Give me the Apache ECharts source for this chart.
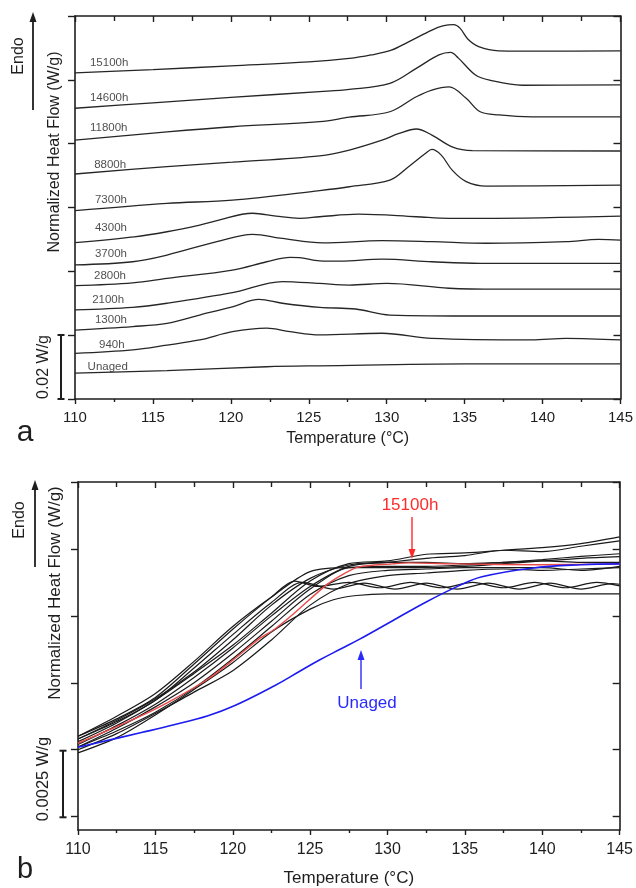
<!DOCTYPE html>
<html><head><meta charset="utf-8">
<script src="https://cdn.jsdelivr.net/npm/echarts@6.0.0/dist/echarts.min.js"></script>
<style>html,body{margin:0;padding:0;background:#fff}#c{width:636px;height:888px}</style>
</head><body><div id="c"></div>
<script>
// ---------- Panel a data (Temperature °C, normalized heat flow in mW/g, curves offset) ----------
const aLabels = ['15100h','14600h','11800h','8800h','7300h','4300h','3700h','2800h','2100h','1300h','940h','Unaged'];
const a15100 = [[110,102.2],[115,103.2],[120,104.4],[125,105.6],[127.6,106.7],[129,107.8],[130.3,109.3],[131.4,111.9],[132.9,115.6],[133.6,116.9],[134.3,117.3],[134.7,116.2],[135.2,112.8],[135.9,110.4],[137.2,109.1],[140,109.0],[145,109.1]];
const a14600 = [[110,91.1],[115,92.8],[120,94.5],[125.7,96.3],[127.6,97.0],[130.2,98.9],[131.9,103.6],[133.35,107.8],[134.1,108.6],[134.6,106.8],[135.7,101.5],[136.6,99.9],[138.7,98.3],[145,98.4]];
const a11800 = [[110,81.1],[115.9,83.7],[120.1,85.3],[125.7,86.9],[127.6,88.3],[130.2,90.0],[131.9,94.7],[132.9,96.8],[134.0,97.8],[135.1,94.2],[136.0,90.0],[137.2,89.0],[139.3,88.4],[145,88.4]];
const a8800 = [[110,70.5],[115.9,72.8],[120.1,74.2],[125.7,76.2],[127.6,78.0],[129.7,81.1],[130.8,83.2],[131.9,84.6],[132.9,82.7],[134.2,79.0],[135.5,77.8],[145,77.7]];
const a7300 = [[110,59.0],[115.9,61.3],[120.1,62.3],[125.7,65.3],[127.6,66.5],[130.2,68.6],[131.4,72.8],[132.5,77.0],[132.9,78.2],[133.5,76.4],[134.2,71.7],[135.1,68.1],[136.4,66.7],[145,67.0]];
const a4300 = [[110,49.0],[113.8,50.8],[115.9,52.4],[118.0,54.5],[119.1,55.9],[121.4,58.2],[122.9,57.3],[124.4,56.6],[125.7,57.1],[128.2,57.9],[131.9,57.1],[134.0,56.6],[136.1,56.6],[145,57.3]];
const a3700 = [[110,42.0],[113.7,43.0],[115.9,45.1],[119.1,49.3],[121.4,51.6],[123.3,50.3],[125.9,48.9],[129.7,49.6],[132.9,49.3],[136.4,48.8],[141.5,49.3],[143.6,50.0],[145,49.8]];
const a2800 = [[110,35.5],[113.7,36.4],[115.9,37.8],[120.1,40.4],[122.3,43.0],[123.8,44.4],[124.4,44.3],[125.7,43.3],[127.0,43.2],[129.7,43.8],[132.9,43.0],[136.0,42.5],[139.3,42.5],[145,42.5]];
const a2100 = [[110,27.9],[113.7,28.7],[115.9,30.0],[120.1,33.3],[123.3,36.8],[125.7,36.2],[127.6,35.7],[130.0,36.2],[134.0,34.7],[137.2,34.4],[145,34.4]];
const a1300 = [[110,21.6],[113.7,22.7],[115.9,23.7],[118.0,26.3],[120.1,28.9],[121.8,31.2],[123.3,30.0],[125.7,28.7],[128.0,28.2],[130.2,26.3],[136.1,26.0],[145,26.0]];
const a940 = [[110,14.3],[113.7,15.4],[115.9,16.9],[118.0,18.5],[120.1,21.1],[122.3,22.2],[123.8,21.1],[125.7,20.1],[129.7,20.6],[132.9,19.0],[139.3,18.5],[141.5,19.0],[145,18.5]];
const aUnaged = [[110,8.1],[115.9,8.9],[122.3,10.1],[125.7,10.4],[135.1,11.0],[145,11.0]];
const aCurves = [a15100,a14600,a11800,a8800,a7300,a4300,a3700,a2800,a2100,a1300,a940,aUnaged];

// ---------- Panel b data (mW/g) ----------
const bUnaged = [[110,2.59],[114.1,3.14],[116.2,3.43],[118.4,3.77],[120.1,4.14],[122.7,4.89],[124.3,5.42],[125.6,5.85],[127.0,6.27],[128.2,6.63],[130.3,7.31],[132.5,8.02],[134.6,8.62],[136.1,8.96],[139.3,9.28],[142.5,9.41],[145,9.44]];
const b15100 = [[110,2.74],[114.1,3.77],[116.2,4.39],[118.4,5.14],[120.1,5.89],[121.7,6.64],[122.7,7.0],[123.8,7.51],[126.0,8.63],[127.0,9.01],[128.1,9.32],[130.3,9.44],[131.4,9.48],[134.6,9.44],[139.7,9.41],[145,9.44]];
const bAged1 = [[110,2.8],[112.5,3.5],[115,4.35],[117.5,5.35],[120,6.4],[122.5,7.6],[125,8.8],[127.5,9.45],[130,9.55],[132.5,9.8],[135,9.85],[137.5,9.95],[140,10.05],[142.5,10.2],[145,10.45]];
const bAged2 = [[110,2.7],[112.5,3.4],[115,4.2],[117.5,5.2],[120,6.3],[122.5,7.5],[125,8.6],[127.5,9.35],[130,9.5],[132.5,9.65],[135,9.75],[137.5,9.95],[140,9.9],[142.5,10.1],[145,10.3]];
const bAged3 = [[110,2.6],[112.5,3.3],[115,4.1],[117.5,5.0],[120,6.1],[122.5,7.3],[125,8.5],[127.5,9.3],[130,9.35],[132.5,9.35],[135,9.4],[137.5,9.5],[140,9.6],[142.5,9.72],[145,9.82]];
const bAged4 = [[110,3.0],[112.5,3.75],[115,4.6],[117.5,5.8],[120,7.1],[122.5,8.2],[125,9.15],[127.5,9.3],[130,9.3],[132.5,9.3],[135,9.35],[137.5,9.45],[140,9.55],[142.5,9.65],[145,9.71]];
const bAged5 = [[110,2.6],[112.5,3.2],[115,3.9],[117.5,4.8],[120,5.9],[122.5,7.1],[125,8.3],[127.5,9.0],[130,9.2],[132.5,9.25],[135,9.3],[137.5,9.3],[140,9.3],[142.5,9.2],[145,9.35]];
const bAged6 = [[110,2.5],[112.5,3.1],[115,3.85],[117.5,4.65],[120,5.45],[122.5,6.6],[125,7.9],[127.5,8.7],[130,9.0],[132.5,9.1],[135,9.2],[137.5,9.25],[140,9.2],[142.5,9.25],[145,9.3]];
const bAged7 = [[110,3.0],[112.5,3.65],[115,4.45],[117.5,5.7],[120,7.0],[122.5,8.2],[124,8.8],[125.5,8.6],[127.5,8.75],[129.5,8.55],[131.5,8.75],[133.5,8.55],[135.5,8.75],[137.5,8.55],[139.5,8.75],[141.5,8.55],[143.5,8.75],[145,8.62]];
const bAged8 = [[110,2.9],[112.5,3.55],[115,4.35],[117.5,5.55],[120,6.8],[122.5,8.0],[124.5,8.75],[126.5,8.5],[128.5,8.72],[130.5,8.5],[132.5,8.72],[134.5,8.5],[136.5,8.72],[138.5,8.5],[140.5,8.72],[142.5,8.5],[144.5,8.7],[145,8.68]];
const bAged9 = [[110,2.38],[112.5,2.95],[115,3.8],[117.5,4.75],[120,5.75],[122.5,6.9],[125,7.75],[126.5,8.1],[128,8.26],[130,8.32],[135,8.32],[140,8.32],[145,8.32]];
const bAged10 = [[110,2.9],[112.5,3.6],[115,4.4],[117.5,5.4],[120,6.6],[122.5,7.9],[125,8.9],[127.5,9.4],[130,9.5],[132.5,9.5],[135,9.45],[137.5,9.5],[140,9.55],[142.5,9.5],[145,9.5]];
const bAgedCurves = [bAged1,bAged2,bAged3,bAged4,bAged5,bAged6,bAged7,bAged8,bAged9,bAged10];

const bYTicks = [0, 2.5, 5, 7.5, 10, 12.5];

// ---------- layout (not data) ----------
const aLabelAnchors = [[110.96,105.3],[110.96,94.4],[110.96,85.0],[111.23,73.3],[111.28,62.3],[111.28,53.5],[111.28,45.6],[111.22,38.5],[111.1,31.0],[111.28,24.8],[111.54,16.9],[110.81,10.1]];

const FONT = '"Liberation Sans", Arial, Helvetica, sans-serif';
const INK = '#1e1e1e';
const axisLineStyle = {color: INK, width: 1.6};

function xAx(grid, pos, showLabel, fs, gap, margin) {
  return {
    gridIndex: grid, type: 'value', min: 110, max: 145, interval: 5, position: pos,
    axisLine: {show: true, onZero: false, lineStyle: axisLineStyle},
    axisTick: {show: true, inside: pos === 'top', length: pos === 'top' ? 6 : 5, lineStyle: {color: INK, width: 1.4}},
    minorTick: {show: true, splitNumber: 2, length: pos === 'top' ? 5 : 3, lineStyle: {color: INK, width: 1.4}},
    axisLabel: {show: showLabel, fontSize: fs, color: INK, fontFamily: FONT, margin: margin},
    splitLine: {show: false},
    name: showLabel ? 'Temperature (°C)' : '', nameLocation: 'middle', nameGap: gap,
    nameTextStyle: {fontSize: fs + 1, color: INK, fontFamily: FONT}
  };
}
function yAx(grid, pos, min, max, extra) {
  return Object.assign({
    gridIndex: grid, type: 'value', min: min, max: max, position: pos,
    axisLine: {show: true, onZero: false, lineStyle: axisLineStyle},
    axisTick: {show: true, inside: pos === 'right', length: 7, lineStyle: {color: INK, width: 1.4}},
    axisLabel: {show: false}, splitLine: {show: false}
  }, extra || {});
}

const series = [];
aCurves.forEach((d, i) => series.push({
  type: 'line', xAxisIndex: 0, yAxisIndex: 0, data: d, symbol: 'none', smooth: 0.35,
  lineStyle: {color: '#262626', width: 1.3}, silent: true, z: 3
}));
series.push({
  type: 'scatter', xAxisIndex: 0, yAxisIndex: 0, symbolSize: 0, silent: true,
  data: aLabelAnchors.map((p, i) => ({value: p, name: aLabels[i]})),
  label: {show: true, position: 'right', distance: 0, formatter: '{b}', fontSize: 11.5, color: INK, fontFamily: FONT}
});
bAgedCurves.forEach(d => series.push({
  type: 'line', xAxisIndex: 2, yAxisIndex: 2, data: d, symbol: 'none', smooth: 0.3,
  lineStyle: {color: '#1a1a1a', width: 1.2}, silent: true, z: 3
}));
series.push({type: 'line', xAxisIndex: 2, yAxisIndex: 2, data: b15100, symbol: 'none', smooth: 0.3,
  lineStyle: {color: '#ea4a4a', width: 1.4}, silent: true, z: 4});
series.push({type: 'line', xAxisIndex: 2, yAxisIndex: 2, data: bUnaged, symbol: 'none', smooth: 0.4,
  lineStyle: {color: '#1c1cf0', width: 1.6}, silent: true, z: 4});

function txt(x, y, s, size, opts) {
  opts = opts || {};
  return {type: 'text', x: x, y: y, rotation: opts.rot || 0, silent: true, z: 10,
    style: {text: s, fontSize: size, fontFamily: FONT, fill: opts.color || INK,
      align: 'center', verticalAlign: 'middle', textAlign: 'center', textVerticalAlign: 'middle'}};
}
function line(x1, y1, x2, y2, color, w) {
  return {type: 'line', silent: true, z: 10, shape: {x1: x1, y1: y1, x2: x2, y2: y2}, style: {stroke: color || INK, lineWidth: w || 1.8}};
}
function headUp(x, y, color) {
  return {type: 'polygon', silent: true, z: 10, shape: {points: [[x, y], [x - 3.5, y + 10], [x + 3.5, y + 10]]}, style: {fill: color || INK}};
}
function headDown(x, y, color) {
  return {type: 'polygon', silent: true, z: 10, shape: {points: [[x, y], [x - 3.5, y - 10], [x + 3.5, y - 10]]}, style: {fill: color || INK}};
}
const R = Math.PI / 2;
const graphic = [
  // panel a
  txt(19, 56, 'Endo', 16, {rot: R}),
  line(33, 110, 33, 20), headUp(33, 12),
  txt(55, 152, 'Normalized Heat Flow (W/g)', 16, {rot: R}),
  txt(44, 367, '0.02 W/g', 16, {rot: R}),
  line(61, 335, 61, 399, INK, 2), line(57.5, 335, 64.5, 335, INK, 2), line(57.5, 399, 64.5, 399, INK, 2),
  txt(25, 433, 'a', 30),
  // panel b
  txt(20, 520, 'Endo', 16, {rot: R}),
  line(35, 567, 35, 488), headUp(35, 480),
  txt(55, 593, 'Normalized Heat Flow (W/g)', 17, {rot: R}),
  txt(43, 779, '0.0025 W/g', 16.5, {rot: R}),
  line(63, 750.7, 63, 817.3, INK, 2), line(59.5, 750.7, 66.5, 750.7, INK, 2), line(59.5, 817.3, 66.5, 817.3, INK, 2),
  txt(25, 870, 'b', 29),
  txt(410, 505, '15100h', 17, {color: '#ff2a2a'}),
  line(412, 517, 412, 551, '#ff2a2a', 1.4), headDown(412, 559, '#ff2a2a'),
  txt(367, 703, 'Unaged', 17, {color: '#2a2aff'}),
  line(361, 689, 361, 658, '#2a2aff', 1.4), headUp(361, 650, '#2a2aff')
];

const option = {
  animation: false,
  backgroundColor: '#fff',
  grid: [
    {left: 75, top: 16, width: 547, height: 383},
    {left: 78, top: 482, width: 544, height: 349}
  ],
  xAxis: [
    xAx(0, 'bottom', true, 15, 32, 11),
    xAx(0, 'top', false, 15, 0, 0),
    xAx(1, 'bottom', true, 16, 40, 12),
    xAx(1, 'top', false, 16, 0, 0)
  ],
  yAxis: [
    yAx(0, 'left', 0, 120, {interval: 20}),
    yAx(0, 'right', 0, 120, {interval: 20}),
    yAx(1, 'left', -0.5, 12.5),
    yAx(1, 'right', -0.5, 12.5)
  ],
  series: series,
  graphic: graphic
};
// custom tick positions for panel b y axes
option.yAxis[2].axisTick.customValues = bYTicks;
option.yAxis[3].axisTick.customValues = bYTicks;

const chart = echarts.init(document.getElementById('c'), null, {renderer: 'canvas', width: 636, height: 888});
chart.setOption(option);
</script></body></html>
